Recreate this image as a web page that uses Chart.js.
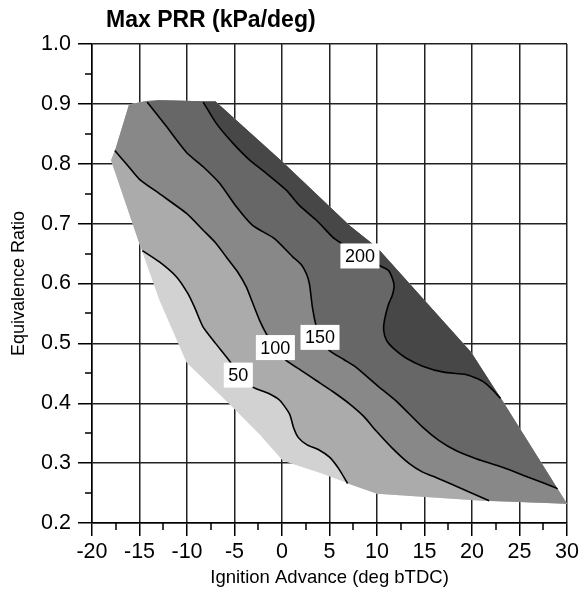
<!DOCTYPE html>
<html>
<head>
<meta charset="utf-8">
<script src="https://cdn.jsdelivr.net/npm/chart.js@4.4.0/dist/chart.umd.min.js"></script>
<style>
html,body{margin:0;padding:0;background:#fff;}
#wrap{width:582px;height:597px;}
</style>
</head>
<body>
<div id="wrap"><canvas id="chart" width="582" height="597"></canvas></div>
<script>
// outline of the measured region, clockwise from the left-most point
const hullX = [-18.0, -17.5, -16.1, -14.3, -13.0, -7.0, 0.06, 7.1, 10.0, 19.9, 23.2, 30.0, 21.1, 10.0, 3.95, 0.09, -2.35, -5.17, -10.05, -12.9, -15.0];
const hullY = [0.806, 0.826, 0.899, 0.905, 0.906, 0.904, 0.803, 0.697, 0.66, 0.485, 0.404, 0.232, 0.237, 0.249, 0.284, 0.304, 0.348, 0.393, 0.468, 0.572, 0.666];

// contour lines (kPa/deg), each from its upper-left end to its lower-right end
const levels = [50, 100, 150, 200];
const c50X = [-14.7, -12.9, -11.1, -9.9, -9.2, -8.3, -7.0, -5.5, -4.6, -3.1, -1.5, -0.25, 0.8, 1.2, 1.7, 2.6, 3.9, 5.0, 6.0, 6.9];
const c50Y = [0.655, 0.636, 0.611, 0.583, 0.56, 0.527, 0.5, 0.47, 0.447, 0.427, 0.417, 0.405, 0.382, 0.36, 0.343, 0.331, 0.322, 0.31, 0.29, 0.266];
const c100X = [-17.6, -16.4, -15.0, -12.9, -10.05, -8.3, -7.0, -5.85, -4.7, -3.75, -3.2, -2.35, -1.65, -0.7, 0.4, 2.0, 3.6, 5.3, 7.1, 8.6, 9.9, 11.6, 13.4, 14.8, 16.2, 19.4, 21.8];
const c100Y = [0.822, 0.80, 0.774, 0.75, 0.717, 0.689, 0.668, 0.644, 0.62, 0.594, 0.572, 0.538, 0.516, 0.493, 0.472, 0.455, 0.438, 0.42, 0.399, 0.378, 0.354, 0.325, 0.299, 0.285, 0.276, 0.254, 0.237];
const c150X = [-14.2, -12.2, -10.0, -8.3, -6.55, -4.8, -3.1, -0.8, 1.1, 2.0, 2.6, 2.9, 3.2, 3.6, 4.0, 5.0, 6.5, 7.8, 10.0, 12.0, 14.8, 16.5, 18.3, 20.5, 23.2, 26.0, 28.8, 29.0];
const c150Y = [0.903, 0.863, 0.818, 0.795, 0.767, 0.728, 0.697, 0.675, 0.645, 0.632, 0.615, 0.598, 0.56, 0.528, 0.51, 0.488, 0.473, 0.46, 0.43, 0.404, 0.36, 0.338, 0.321, 0.307, 0.293, 0.276, 0.259, 0.257];
const c200X = [-8.3, -6.9, -5.15, -3.4, -1.65, 0.45, 1.85, 3.6, 5.35, 6.05, 8.2, 10.25, 11.2, 11.65, 11.8, 11.6, 11.2, 10.8, 10.7, 11.0, 11.7, 13.0, 14.8, 17.0, 19.35, 21.1, 22.2, 23.0];
const c200Y = [0.903, 0.867, 0.834, 0.806, 0.784, 0.756, 0.73, 0.706, 0.677, 0.669, 0.646, 0.63, 0.622, 0.607, 0.595, 0.58, 0.565, 0.54, 0.522, 0.505, 0.492, 0.476, 0.462, 0.452, 0.448, 0.437, 0.422, 0.408];

// where the level labels sit
const labelX = [-4.6, -0.7, 4.0, 8.2];
const labelY = [0.447, 0.493, 0.510, 0.646];

const baseColor = '#d2d2d2';
const bandColors = ['#ababab', '#888888', '#676767', '#474747'];
const titleText = 'Max PRR (kPa/deg)';

const FONT = '"Liberation Sans", Arial, Helvetica, sans-serif';
Chart.defaults.font.family = FONT;
Chart.defaults.color = '#000';

const toPts = (xs, ys) => xs.map((x, i) => ({x, y: ys[i]}));
const hull = toPts(hullX, hullY);
const contours = [toPts(c50X, c50Y), toPts(c100X, c100Y), toPts(c150X, c150Y), toPts(c200X, c200Y)];

// index i of the hull edge i -> i+1 closest to p
function hullEdge(p){
  const n = hull.length;
  let best = 0, bd = Infinity;
  for(let i = 0; i < n; i++){
    const a = hull[i], b = hull[(i + 1) % n];
    const ax = a.x / 50, ay = a.y / 0.8, bx = b.x / 50, by = b.y / 0.8, px = p.x / 50, py = p.y / 0.8;
    const dx = bx - ax, dy = by - ay;
    let t = ((px - ax) * dx + (py - ay) * dy) / (dx * dx + dy * dy);
    t = Math.max(0, Math.min(1, t));
    const d = Math.hypot(ax + t * dx - px, ay + t * dy - py);
    if(d < bd){ bd = d; best = i; }
  }
  return best;
}

// region above a contour: the contour, then back round the upper side of the outline
function bandPolygon(line){
  const n = hull.length;
  const e = hullEdge(line[line.length - 1]);
  const stop = (hullEdge(line[0]) + 1) % n;
  const poly = line.slice();
  let i = e;
  for(let k = 0; k < n; k++){
    poly.push(hull[i]);
    if(i === stop) break;
    i = (i - 1 + n) % n;
  }
  return poly;
}

const datasets = [];
datasets.push({data: hull, fill: 'shape', backgroundColor: baseColor, borderColor: 'rgba(0,0,0,0)', borderWidth: 0, pointRadius: 0, tension: 0, order: 20});
contours.forEach((line, k) => {
  datasets.push({data: bandPolygon(line), fill: 'shape', backgroundColor: bandColors[k], borderColor: 'rgba(0,0,0,0)', borderWidth: 0, pointRadius: 0, tension: 0, order: 19 - k});
});
contours.forEach((line, k) => {
  datasets.push({data: line, fill: false, borderColor: '#000', borderWidth: 1.6, pointRadius: 0, tension: 0.2, order: 5});
});

// small ticks halfway between the labelled ones
const minorTicks = {
  id: 'minorTicks',
  afterDraw(chart){
    const {ctx, chartArea, scales} = chart;
    ctx.save();
    ctx.strokeStyle = '#000';
    ctx.lineWidth = 1.5;
    ctx.beginPath();
    const xt = scales.x.ticks;
    for(let i = 0; i < xt.length - 1; i++){
      const px = Math.round(scales.x.getPixelForValue((xt[i].value + xt[i + 1].value) / 2));
      ctx.moveTo(px, chartArea.bottom); ctx.lineTo(px, chartArea.bottom + 7);
    }
    const yt = scales.y.ticks;
    for(let i = 0; i < yt.length - 1; i++){
      const py = Math.round(scales.y.getPixelForValue((yt[i].value + yt[i + 1].value) / 2));
      ctx.moveTo(chartArea.left - 7, py); ctx.lineTo(chartArea.left, py);
    }
    ctx.stroke();
    ctx.restore();
  }
};

// white boxes with the contour levels
const levelLabels = {
  id: 'levelLabels',
  afterDraw(chart){
    const {ctx, scales} = chart;
    ctx.save();
    ctx.font = '18px ' + FONT;
    ctx.textAlign = 'center';
    ctx.textBaseline = 'middle';
    levels.forEach((lv, i) => {
      const px = scales.x.getPixelForValue(labelX[i]);
      const py = scales.y.getPixelForValue(labelY[i]);
      const txt = String(lv);
      const w = ctx.measureText(txt).width + 9;
      const h = 25;
      ctx.fillStyle = '#fff';
      ctx.fillRect(px - w / 2, py - h / 2, w, h);
      ctx.fillStyle = '#000';
      ctx.fillText(txt, px, py + 1);
    });
    ctx.restore();
  }
};

const plotTitle = {
  id: 'plotTitle',
  afterDraw(chart){
    const {ctx, chartArea} = chart;
    ctx.save();
    ctx.font = 'bold 23px ' + FONT;
    ctx.fillStyle = '#000';
    ctx.textAlign = 'left';
    ctx.textBaseline = 'middle';
    ctx.fillText(titleText, chartArea.left + 14, 21);
    ctx.restore();
  }
};

new Chart(document.getElementById('chart'), {
  type: 'line',
  data: {datasets},
  plugins: [minorTicks, levelLabels, plotTitle],
  options: {
    responsive: false,
    animation: false,
    events: [],
    devicePixelRatio: 1,
    layout: {padding: {top: 44, right: 14, left: 0, bottom: 0}},
    plugins: {legend: {display: false}, tooltip: {enabled: false}, title: {display: false}},
    scales: {
      x: {
        type: 'linear', min: -20, max: 30, z: 1,
        ticks: {stepSize: 5, font: {size: 21.5}, color: '#000', padding: 3, maxRotation: 0},
        grid: {color: '#222', lineWidth: 1.5, tickLength: 13, tickColor: '#000'},
        border: {color: '#000', width: 1.5},
        title: {display: true, text: 'Ignition Advance (deg bTDC)', font: {size: 18.5}, color: '#000', padding: {top: 0, bottom: 8}},
        afterFit(scale){ scale.height = 74; }
      },
      y: {
        type: 'linear', min: 0.2, max: 1.0, z: 1,
        ticks: {stepSize: 0.1, font: {size: 21.5}, color: '#000', padding: 7, callback: v => v.toFixed(1)},
        grid: {color: '#222', lineWidth: 1.5, tickLength: 14, tickColor: '#000'},
        border: {color: '#000', width: 1.5},
        title: {display: true, text: 'Equivalence Ratio', font: {size: 18}, color: '#000', padding: {top: 8, bottom: 0}},
        afterFit(scale){ scale.width = 92; }
      }
    }
  }
});
</script>
</body>
</html>
